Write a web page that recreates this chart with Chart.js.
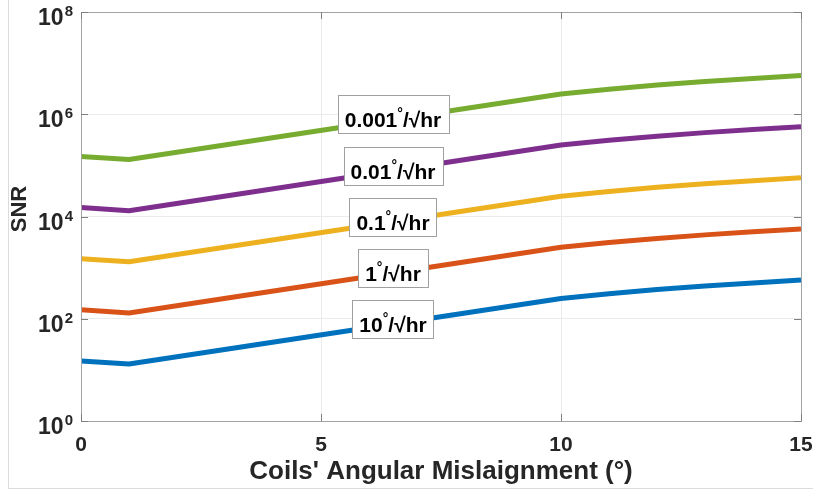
<!DOCTYPE html>
<html>
<head>
<meta charset="utf-8">
<script src="https://cdn.jsdelivr.net/npm/chart.js@4.4.1/dist/chart.umd.min.js"></script>
<style>
  html, body { margin: 0; padding: 0; background: #fff; }
  #wrap { position: relative; width: 813px; height: 494px; }
  #frame { position: absolute; left: 8px; top: -1px; width: 820px; height: 490px;
           border-left: 1px solid #dcdcdc; border-bottom: 1px solid #dcdcdc; box-sizing: border-box; pointer-events: none; }
  canvas { position: absolute; left: 0; top: 0; }
</style>
</head>
<body>
<div id="wrap">
  <canvas id="c" width="813" height="494"></canvas>
  <div id="frame"></div>
</div>
<script>
// Angular misalignment of the coils (degrees)
const misalignment = [0, 1, 10, 11, 12, 13, 14, 15];

// SNR for each gyro noise level (deg/sqrt(hr))
const snr10deg    = [15, 13, 250, 309, 372, 437, 501, 572];
const snr1deg     = [150, 130, 2500, 3090, 3720, 4370, 5010, 5720];
const snr01deg    = [1500, 1300, 25000, 30900, 37200, 43700, 50100, 57200];
const snr001deg   = [15000, 13000, 250000, 309000, 372000, 437000, 501000, 572000];
const snr0001deg  = [150000, 130000, 2500000, 3090000, 3720000, 4370000, 5010000, 5720000];

const noiseLabels = ['10', '1', '0.1', '0.01', '0.001'];
const seriesColors = ['#0072BD', '#D95319', '#EDB120', '#7E2F8E', '#77AC30'];

const xTicks = [0, 5, 10, 15];
const yTicks = [1, 1e2, 1e4, 1e6, 1e8];

// position along x where each curve carries its noise-level tag
const tagX = 6.5;

const FONT = '"Liberation Sans", Arial, Helvetica, sans-serif';
const TEXT = '#262626';
const AXIS = '#a3a3a3';

const allSeries = [snr10deg, snr1deg, snr01deg, snr001deg, snr0001deg];

const datasets = allSeries.map((vals, i) => ({
  label: noiseLabels[i] + '°/√hr',
  data: misalignment.map((x, j) => ({ x: x, y: vals[j] })),
  borderColor: seriesColors[i],
  backgroundColor: seriesColors[i],
  borderWidth: 5,
  pointRadius: 0,
  tension: 0,
  borderJoinStyle: 'round',
  borderCapStyle: 'butt',
  fill: false
}));

// value on a series at x, following its straight segments in log space
function valueAt(vals, x) {
  for (let j = 0; j < misalignment.length - 1; j++) {
    const x0 = misalignment[j], x1 = misalignment[j + 1];
    if (x >= x0 && x <= x1) {
      const t = (x - x0) / (x1 - x0);
      const l0 = Math.log10(vals[j]), l1 = Math.log10(vals[j + 1]);
      return Math.pow(10, l0 + t * (l1 - l0));
    }
  }
  return vals[vals.length - 1];
}

const decorations = {
  id: 'decorations',
  afterDraw(chart) {
    const ctx = chart.ctx;
    const a = chart.chartArea;
    const xs = chart.scales.x, ys = chart.scales.y;
    ctx.save();

    // axes box
    ctx.strokeStyle = AXIS;
    ctx.lineWidth = 1;
    ctx.strokeRect(Math.round(a.left) + 0.5, Math.round(a.top) + 0.5,
                   Math.round(a.right - a.left), Math.round(a.bottom - a.top));

    // inward tick marks
    ctx.strokeStyle = '#808080';
    ctx.beginPath();
    yTicks.forEach(v => {
      const y = Math.round(ys.getPixelForValue(v)) + 0.5;
      ctx.moveTo(a.left, y); ctx.lineTo(a.left + 7, y);
      ctx.moveTo(a.right, y); ctx.lineTo(a.right - 7, y);
    });
    xTicks.forEach(v => {
      const x = Math.round(xs.getPixelForValue(v)) + 0.5;
      ctx.moveTo(x, a.bottom); ctx.lineTo(x, a.bottom - 7);
      ctx.moveTo(x, a.top); ctx.lineTo(x, a.top + 7);
    });
    ctx.stroke();

    ctx.fillStyle = TEXT;

    // y tick labels: 10 with superscript exponent
    yTicks.forEach(v => {
      const y = ys.getPixelForValue(v);
      const exp = String(Math.round(Math.log10(v)));
      ctx.font = 'bold 15px ' + FONT;
      const ew = ctx.measureText(exp).width;
      ctx.textAlign = 'left';
      ctx.textBaseline = 'alphabetic';
      const right = a.left - 8;
      ctx.fillText(exp, right - ew, y + 4);
      ctx.font = 'bold 23px ' + FONT;
      const bw = ctx.measureText('10').width;
      ctx.fillText('10', right - ew - bw - 1, y + 13);
    });

    // x tick labels
    ctx.font = 'bold 21px ' + FONT;
    ctx.textAlign = 'center';
    ctx.textBaseline = 'alphabetic';
    xTicks.forEach(v => {
      ctx.fillText(String(v), xs.getPixelForValue(v), a.bottom + 30);
    });

    // axis titles
    ctx.font = 'bold 26px ' + FONT;
    ctx.fillText("Coils' Angular Mislaignment (°)", (a.left + a.right) / 2, 479);
    ctx.save();
    ctx.translate(26, 209);
    ctx.rotate(-Math.PI / 2);
    ctx.font = 'bold 22px ' + FONT;
    ctx.textAlign = 'center';
    ctx.fillText('SNR', 0, 0);
    ctx.restore();

    // noise-level tags on each curve
    const cx = xs.getPixelForValue(tagX);
    allSeries.forEach((vals, i) => {
      const cy = ys.getPixelForValue(valueAt(vals, tagX));
      const lead = noiseLabels[i];
      ctx.font = 'bold 21px ' + FONT;
      const wLead = ctx.measureText(lead).width;
      const wTail = ctx.measureText('/√hr').width;
      ctx.font = 'bold 14px ' + FONT;
      const wDeg = ctx.measureText('°').width;
      const total = wLead + wDeg + wTail;
      const pad = 7;
      const bx = Math.round(cx - total / 2 - pad) + 0.5;
      const bw = Math.round(total + 2 * pad);
      const by = Math.round(cy - 24) + 0.5;
      const bh = 38;
      ctx.fillStyle = '#ffffff';
      ctx.fillRect(bx, by, bw, bh);
      ctx.strokeStyle = '#a0a0a0';
      ctx.lineWidth = 1;
      ctx.strokeRect(bx, by, bw, bh);
      ctx.fillStyle = '#000000';
      ctx.textAlign = 'left';
      ctx.textBaseline = 'alphabetic';
      let tx = cx - total / 2;
      const base = cy + 8;
      ctx.font = 'bold 21px ' + FONT;
      ctx.fillText(lead, tx, base);
      tx += wLead;
      ctx.font = 'bold 14px ' + FONT;
      ctx.fillText('°', tx, base - 9);
      tx += wDeg;
      ctx.font = 'bold 21px ' + FONT;
      ctx.fillText('/√hr', tx, base);
    });

    ctx.restore();
  }
};

new Chart(document.getElementById('c'), {
  type: 'line',
  data: { datasets: datasets },
  options: {
    responsive: false,
    animation: false,
    events: [],
    layout: { padding: { left: 81, top: 12, right: 12, bottom: 73 } },
    plugins: { legend: { display: false }, tooltip: { enabled: false } },
    scales: {
      x: {
        type: 'linear',
        min: 0, max: 15,
        afterBuildTicks: s => { s.ticks = xTicks.map(v => ({ value: v })); },
        ticks: { display: false },
        grid: { color: ctx => (ctx.tick && (ctx.tick.value === 0 || ctx.tick.value === 15)) ? 'rgba(0,0,0,0)' : '#ebebeb',
                drawTicks: false, lineWidth: 1 },
        border: { display: false }
      },
      y: {
        type: 'logarithmic',
        min: 1, max: 1e8,
        afterBuildTicks: s => { s.ticks = yTicks.map(v => ({ value: v })); },
        ticks: { display: false },
        grid: { color: ctx => (ctx.tick && (ctx.tick.value === 1 || ctx.tick.value === 1e8)) ? 'rgba(0,0,0,0)' : '#ebebeb',
                drawTicks: false, lineWidth: 1 },
        border: { display: false }
      }
    }
  },
  plugins: [decorations]
});
</script>
</body>
</html>
